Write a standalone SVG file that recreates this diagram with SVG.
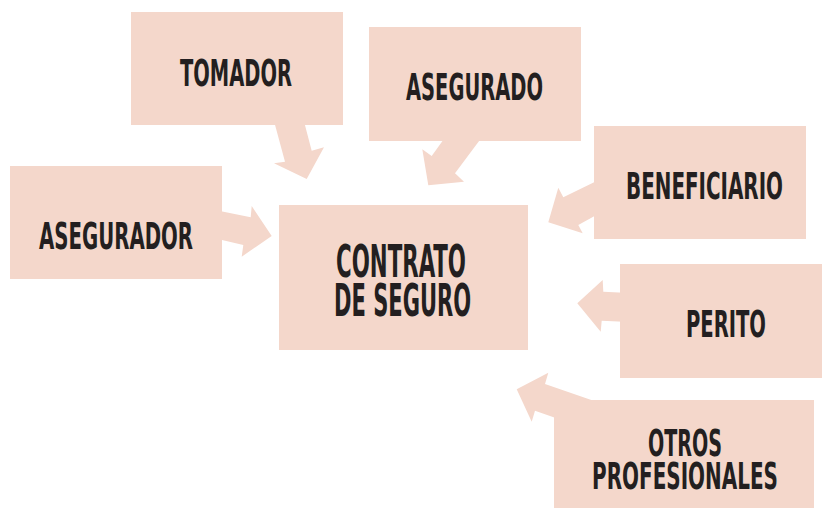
<svg xmlns="http://www.w3.org/2000/svg" width="822" height="508" viewBox="0 0 822 508">
<style>
.box{fill:#f4d7cb}
.arr{fill:#f4d7cb}
.t{font-family:"DejaVu Sans Condensed","DejaVu Sans",sans-serif;font-weight:bold;font-size:37px;fill:#231f20}
.big{font-size:44px}
</style>
<rect width="822" height="508" fill="#ffffff"/>
<g id="connectors">
<polygon class="arr" points="271,110 285,161.7 274,163.3 306.7,179 324,147.3 311.7,150.7 301,110"/>
<polygon class="arr" points="454,125 431.7,156 422.3,149.3 428.3,185.3 464,181.7 455,173.3 491,125"/>
<polygon class="arr" points="610,174.6 563.3,197.3 558.3,187.7 548.3,222.3 582.7,233.3 578.3,225 610,207.5"/>
<polygon class="arr" points="205,208 250.7,217.3 251.7,206 271.7,236 241.7,256.7 243.3,245 205,236"/>
<polygon class="arr" points="640,293.5 603.3,291.7 602.7,280 577.3,303.3 600.7,331.7 601.7,320.7 640,322.5"/>
<polygon class="arr" points="600,403 545,384 548.3,372.7 516.7,389.3 531.7,421.7 535,410.7 570,423"/>
</g>
<g id="tomador">
<rect class="box" x="131" y="12" width="212" height="113"/>
<text class="t" x="180" y="86" textLength="112" lengthAdjust="spacingAndGlyphs">TOMADOR</text>
</g>
<g id="asegurado">
<rect class="box" x="369" y="27" width="212" height="114"/>
<text class="t" x="406" y="100" textLength="137" lengthAdjust="spacingAndGlyphs">ASEGURADO</text>
</g>
<g id="beneficiario">
<rect class="box" x="594" y="126" width="212" height="113"/>
<text class="t" x="626" y="199" textLength="157" lengthAdjust="spacingAndGlyphs">BENEFICIARIO</text>
</g>
<g id="asegurador">
<rect class="box" x="10" y="166" width="212" height="113"/>
<text class="t" x="39" y="249" textLength="154" lengthAdjust="spacingAndGlyphs">ASEGURADOR</text>
</g>
<g id="contrato">
<rect class="box" x="279" y="205" width="249" height="145"/>
<text class="t big" x="336" y="277" textLength="130" lengthAdjust="spacingAndGlyphs">CONTRATO</text>
<text class="t big" x="334" y="316" textLength="137" lengthAdjust="spacingAndGlyphs">DE SEGURO</text>
</g>
<g id="perito">
<rect class="box" x="620" y="264" width="202" height="114"/>
<text class="t" x="686" y="337" textLength="80" lengthAdjust="spacingAndGlyphs">PERITO</text>
</g>
<g id="otros">
<rect class="box" x="554" y="400" width="260" height="108"/>
<text class="t" x="648" y="456" textLength="74" lengthAdjust="spacingAndGlyphs">OTROS</text>
<text class="t" x="592" y="489" textLength="186" lengthAdjust="spacingAndGlyphs">PROFESIONALES</text>
</g>
</svg>
